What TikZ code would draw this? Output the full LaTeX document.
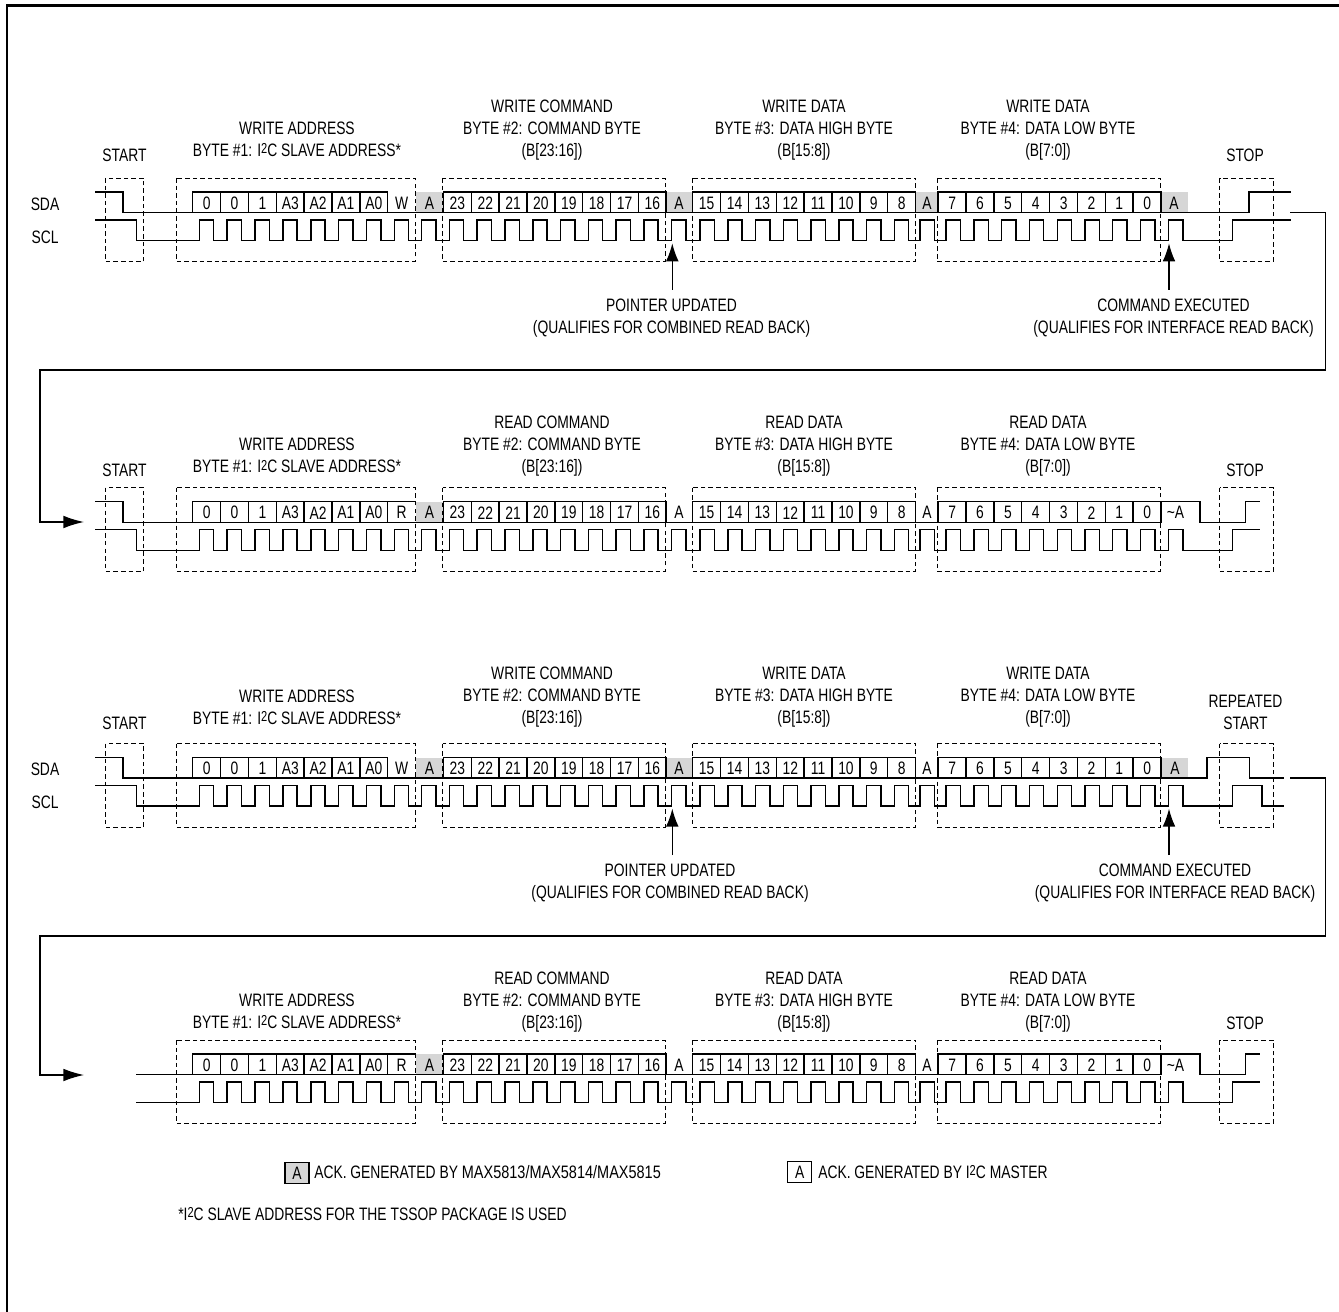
\documentclass[tikz,border=0pt]{standalone}
\usepackage{fontspec}
\setmainfont[FakeStretch=0.77]{Liberation Sans}
\usetikzlibrary{arrows.meta}

\newcommand{\iic}{I\raisebox{.25ex}{\scalebox{.8}{2}}C}
\newcommand{\sclrises}{199.3,227.2,255,282.9,310.8,338.7,366.6,394.4,421.7,449.3,477.2,505,532.8,560.6,588.4,616.2,643.8,671.7,700,727.8,755.5,783.3,811,838.8,866.5,894.3,920,946,974,1001.7,1029.4,1057.3,1085,1112.7,1140.6,1168.7}

\tikzset{
  wave/.style={line width=1.1pt,line join=miter},
  cellbox/.style={line width=1.1pt},
  dashbox/.style={line width=.7pt,dash pattern=on 3.4pt off 2.3pt},
  txt/.style={inner sep=0pt,align=center,font=\fontsize{13.5}{16.5}\selectfont},
  pointer/.style={line width=1pt,-{Latex[length=13.5pt,width=9.5pt]}},
  ackfill/.style={fill=black!16},
  loopline/.style={line width=1pt,-{Latex[length=15.5pt,width=9.5pt]}}
}

% one byte of numbered cells
\newcommand{\bytecells}[3]{
  \foreach \lab [count=\n from 0] in {#3} {
    \draw[cellbox] ({#2+27.85*\n},192) rectangle +(27.85,20.5);
    \node[txt] (#1\n) at ({#2+27.85*\n+14},203) {\lab};
  }
}
\newcommand{\allcells}[1]{
  \bytecells{addr}{192.7}{0,0,1,A3,A2,A1,A0}
  \node[txt] (rw) at (401.6,203) {#1};
  \bytecells{cmd}{443.4}{23,22,21,20,19,18,17,16}
  \bytecells{high}{692.7}{15,14,13,12,11,10,9,8}
  \bytecells{low}{938.2}{7,6,5,4,3,2,1,0}
}
\newcommand{\sclwave}[2]{
  \draw[wave] #1 \foreach \x in \sclrises {-- (\x,240.5) -- (\x,220) -- ++(14.3,0) -- ++(0,20.5)} #2;
}
% dashed frames of the bytes
\newcommand{\byteframes}{
  \draw[dashbox] (176.7,178) rectangle (415,261.5);
  \draw[dashbox] (442.7,178) rectangle (665,261.5);
  \draw[dashbox] (692.7,178) rectangle (915.7,261.5);
  \draw[dashbox] (937.3,178) rectangle (1160,261.5);
}
\newcommand{\startframe}{\draw[dashbox] (105.7,178) rectangle (143.7,261.5);}
\newcommand{\stopframe}{\draw[dashbox] (1219.7,178) rectangle (1273.3,261.5);}

\begin{document}
\begin{tikzpicture}[x=.75pt,y=-.75pt]
\useasboundingbox (0,0) rectangle (1339,1312);

\draw[line width=1.8pt]
(7,1312)
--
(7,5.5)
--
(1339,5.5);

% Row 1
\begin{scope}[name prefix=a-]
\fill[ackfill] (415.5,192) rectangle (443.4,212.5);
\fill[ackfill] (665.9,192) rectangle (692.7,212.5);
\fill[ackfill] (916,192) rectangle (938.2,212.5);
\fill[ackfill] (1160.8,192) rectangle (1188,212.5);
\allcells{W}
\node[txt] (ack1) at (429.5,203) {A};
\node[txt] (ack2) at (679,203) {A};
\node[txt] (ack3) at (927,203) {A};
\node[txt] (ack4) at (1174,203) {A};
\draw[wave] (95,192) -- (123,192) -- (123,212.5) -- (1249,212.5) -- (1249,192) -- (1290.7,192);
\sclwave{(95,220) -- (136.7,220) -- (136.7,240.5)}{-- (1232.3,240.5) -- (1232.3,220) -- (1290.7,220)}
\byteframes
\startframe
\stopframe
\node[txt] (sda) at (45,204.5) {SDA};
\node[txt] (scl) at (45,237.5) {SCL};
\node[txt] (begin) at (124.5,155) {START};
\node[txt] (addr) at (297,139) {WRITE ADDRESS\\BYTE \#1: \iic{} SLAVE ADDRESS*};
\node[txt] (cmd) at (552,130) {WRITE COMMAND\\BYTE \#2: COMMAND BYTE\\(B[23:16])};
\node[txt] (high) at (804,130) {WRITE DATA\\BYTE \#3: DATA HIGH BYTE\\(B[15:8])};
\node[txt] (low) at (1048,130) {WRITE DATA\\BYTE \#4: DATA LOW BYTE\\(B[7:0])};
\node[txt] (end) at (1245,155) {STOP};
\node[txt] (ptr) at (671.5,318) {POINTER UPDATED\\(QUALIFIES FOR COMBINED READ BACK)};
\node[txt] (exe) at (1173.5,318) {COMMAND EXECUTED\\(QUALIFIES FOR INTERFACE READ BACK)};
\coordinate (ptrtip) at (672.3,243.3);
\coordinate (ptrtail) at (672.3,290);
\coordinate (exetip) at (1169,243.3);
\coordinate (exetail) at (1169,290);
\draw[pointer] (ptrtail) -- (ptrtip);
\draw[pointer] (exetail) -- (exetip);
\end{scope}

% Row 2
\begin{scope}[yshift=-232.3pt,name prefix=b-]
\fill[ackfill] (415.5,192) rectangle (443.4,212.5);
\allcells{R}
\node[txt] (ack1) at (429.5,203) {A};
\node[txt] (ack2) at (679,203) {A};
\node[txt] (ack3) at (927,203) {A};
\node[txt] (ack4) at (1175.5,203) {\textasciitilde A};
\draw[wave] (95,192) -- (123,192) -- (123,212.5) -- (1160,212.5);
\draw[wave] (387,192) -- (415,192);
\draw[wave] (1160,192) -- (1200,192) -- (1200,212.5) -- (1245.7,212.5) -- (1245.7,192) -- (1260,192);
\sclwave{(95,220) -- (136.7,220) -- (136.7,240.5)}{-- (1232.3,240.5) -- (1232.3,220) -- (1260,220)}
\byteframes
\startframe
\stopframe
\node[txt] (begin) at (124.5,160.5) {START};
\node[txt] (addr) at (297,145.5) {WRITE ADDRESS\\BYTE \#1: \iic{} SLAVE ADDRESS*};
\node[txt] (cmd) at (552,136.5) {READ COMMAND\\BYTE \#2: COMMAND BYTE\\(B[23:16])};
\node[txt] (high) at (804,136.5) {READ DATA\\BYTE \#3: DATA HIGH BYTE\\(B[15:8])};
\node[txt] (low) at (1048,136.5) {READ DATA\\BYTE \#4: DATA LOW BYTE\\(B[7:0])};
\node[txt] (end) at (1245,160.5) {STOP};
\end{scope}

% Row 3
\begin{scope}[yshift=-424.2pt,name prefix=c-]
\fill[ackfill] (415.5,192) rectangle (443.4,212.5);
\fill[ackfill] (665.9,192) rectangle (692.7,212.5);
\fill[ackfill] (1160.8,192) rectangle (1188,212.5);
\allcells{W}
\node[txt] (ack1) at (429.5,203) {A};
\node[txt] (ack2) at (679,203) {A};
\node[txt] (ack3) at (927,203) {A};
\node[txt] (ack4) at (1175,203) {A};
\draw[wave] (95,192) -- (123,192) -- (123,212.5) -- (1207,212.5) -- (1207,192) -- (1249.3,192) -- (1249.3,212.5) -- (1284,212.5);
\sclwave{(95,220) -- (136.7,220) -- (136.7,240.5)}{-- (1232.3,240.5) -- (1232.3,220) -- (1262,220) -- (1262,240.5) -- (1284,240.5)}
\byteframes
\startframe
\stopframe
\node[txt] (sda) at (45,203.5) {SDA};
\node[txt] (scl) at (45,236.5) {SCL};
\node[txt] (begin) at (124.5,157.5) {START};
\node[txt] (addr) at (297,141.5) {WRITE ADDRESS\\BYTE \#1: \iic{} SLAVE ADDRESS*};
\node[txt] (cmd) at (552,131.5) {WRITE COMMAND\\BYTE \#2: COMMAND BYTE\\(B[23:16])};
\node[txt] (high) at (804,131.5) {WRITE DATA\\BYTE \#3: DATA HIGH BYTE\\(B[15:8])};
\node[txt] (low) at (1048,131.5) {WRITE DATA\\BYTE \#4: DATA LOW BYTE\\(B[7:0])};
\node[txt] (end) at (1245.5,146.5) {REPEATED\\START};
\node[txt] (ptr) at (670,317.5) {POINTER UPDATED\\(QUALIFIES FOR COMBINED READ BACK)};
\node[txt] (exe) at (1175,317.5) {COMMAND EXECUTED\\(QUALIFIES FOR INTERFACE READ BACK)};
\coordinate (ptrtip) at (672.3,243);
\coordinate (ptrtail) at (672.3,289.5);
\coordinate (exetip) at (1169,243);
\coordinate (exetail) at (1169,289.5);
\draw[pointer] (ptrtail) -- (ptrtip);
\draw[pointer] (exetail) -- (exetip);
\end{scope}

% Row 4
\begin{scope}[yshift=-646.5pt,name prefix=d-]
\fill[ackfill] (415.5,192) rectangle (443.4,212.5);
\allcells{R}
\node[txt] (ack1) at (429.5,203) {A};
\node[txt] (ack2) at (679,203) {A};
\node[txt] (ack3) at (927,203) {A};
\node[txt] (ack4) at (1175.5,203) {\textasciitilde A};
\draw[wave] (136,212.5) -- (1160,212.5);
\draw[wave] (387,192) -- (415,192);
\draw[wave] (1160,192) -- (1200,192) -- (1200,212.5) -- (1245.7,212.5) -- (1245.7,192) -- (1260,192);
\sclwave{(136,240.5)}{-- (1232.3,240.5) -- (1232.3,220) -- (1260,220)}
\byteframes
\stopframe
\node[txt] (addr) at (297,149) {WRITE ADDRESS\\BYTE \#1: \iic{} SLAVE ADDRESS*};
\node[txt] (cmd) at (552,140) {READ COMMAND\\BYTE \#2: COMMAND BYTE\\(B[23:16])};
\node[txt] (high) at (804,140) {READ DATA\\BYTE \#3: DATA HIGH BYTE\\(B[15:8])};
\node[txt] (low) at (1048,140) {READ DATA\\BYTE \#4: DATA LOW BYTE\\(B[7:0])};
\node[txt] (end) at (1245,161) {STOP};
\end{scope}

% Links between rows
\coordinate (outa) at (1290,212.5);
\coordinate (ina) at (84,522);
\coordinate (outb) at (1290,778);
\coordinate (inb) at (84,1075);
\draw[loopline]
(outa)
-|
(1325.3,370)
-|
(40,522)
--
(ina);
\draw[loopline]
(outb)
-|
(1325.3,936)
-|
(40,1075)
--
(inb);

% Legend
\node[txt,draw,fill=black!16,line width=.8pt,minimum width=18pt,minimum height=15.5pt] (keya) at (297,1173) {A};
\node[txt,anchor=west] (keyat) at (314,1172) {ACK. GENERATED BY {\addfontfeature{FakeStretch=0.805}MAX5813/MAX5814/MAX5815}};
\node[txt,draw,line width=.8pt,minimum width=18pt,minimum height=15.5pt] (keyb) at (799.7,1172.2) {A};
\node[txt,anchor=west] (keybt) at (818,1172) {ACK. GENERATED BY \iic{} MASTER};
\node[txt,anchor=west] (note) at (178,1214) {*\iic{} SLAVE ADDRESS FOR THE TSSOP PACKAGE IS USED};

\end{tikzpicture}
\end{document}
